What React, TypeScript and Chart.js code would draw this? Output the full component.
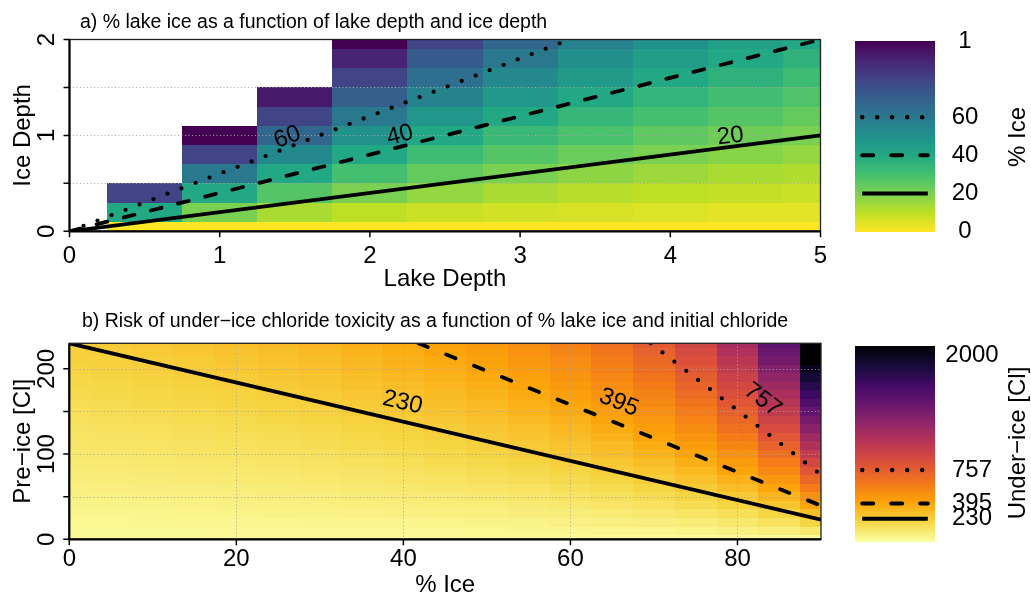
import React, { useEffect, useRef } from "react";
import { Chart, registerables } from "chart.js";

Chart.register(...registerables);

const W = 1031;
const H = 601;
const FONT = '"Liberation Sans", Arial, Helvetica, sans-serif';

// ---------------- Panel a data ----------------
const lakeDepths = [0.5, 1, 1.5, 2, 2.5, 3, 3.5, 4, 4.5, 5];
const iceDepths = [0, 0.2, 0.4, 0.6, 0.8, 1, 1.2, 1.4, 1.6, 1.8, 2];
// % lake ice: one row per lake depth, one value per ice depth (null = no cell)
const pctIce: (number | null)[][] = [
  [0, 40, 80, null, null, null, null, null, null, null, null],
  [0, 20, 40, 60, 80, 100, null, null, null, null, null],
  [0, 13, 27, 40, 53, 67, 80, 93, null, null, null],
  [0, 10, 20, 30, 40, 50, 60, 70, 80, 90, 100],
  [0, 8, 16, 24, 32, 40, 48, 56, 64, 72, 80],
  [0, 7, 13, 20, 27, 33, 40, 47, 53, 60, 67],
  [0, 6, 11, 17, 23, 29, 34, 40, 46, 51, 57],
  [0, 5, 10, 15, 20, 25, 30, 35, 40, 45, 50],
  [0, 4, 9, 13, 18, 22, 27, 31, 36, 40, 44],
  [0, 4, 8, 12, 16, 20, 24, 28, 32, 36, 40],
];
const lakeXTicks = [0, 1, 2, 3, 4, 5];
const lakeXLabels = ["0", "1", "2", "3", "4", "5"];
const iceYTicks = [0, 0.5, 1, 1.5, 2];
const iceYLabels = ["0", "", "1", "", "2"];
const iceYGrid = [0.5, 1, 1.5];
const iceCbTicks = [0, 20, 40, 60, 100];
const iceCbLabels = ["0", "20", "40", "60", "1"];
const iceContour20 = [{ x: 0, y: 0 }, { x: 5, y: 1 }];
const iceContour40 = [{ x: 0, y: 0 }, { x: 5, y: 2 }];
const iceContour60 = [{ x: 0, y: 0 }, { x: 3.33, y: 2 }];
const iceContourLabels = ["20", "40", "60"];
const iceContourLabelX = [4.4, 2.2, 1.45];
const iceContourLabelY = [0.99, 1.0, 0.98];

// ---------------- Panel b data ----------------
const pctIceCats = [0, 5, 10, 15, 20, 25, 30, 35, 40, 45, 50, 55, 60, 65, 70, 75, 80, 85, 90];
const preIceCats = [0, 10, 20, 30, 40, 50, 60, 70, 80, 90, 100, 110, 120, 130, 140, 150, 160, 170, 180, 190, 200, 210, 220, 230];
// under-ice chloride: one row per pre-ice value, one value per % ice
const underIce: number[][] = [
  [0, 0, 0, 0, 0, 0, 0, 0, 0, 0, 0, 0, 0, 0, 0, 0, 0, 0, 0],
  [10, 11, 11, 12, 13, 13, 14, 15, 17, 18, 20, 22, 25, 29, 33, 40, 50, 67, 100],
  [20, 21, 22, 24, 25, 27, 29, 31, 33, 36, 40, 44, 50, 57, 67, 80, 100, 133, 200],
  [30, 32, 33, 35, 38, 40, 43, 46, 50, 55, 60, 67, 75, 86, 100, 120, 150, 200, 300],
  [40, 42, 44, 47, 50, 53, 57, 62, 67, 73, 80, 89, 100, 114, 133, 160, 200, 267, 400],
  [50, 53, 56, 59, 63, 67, 71, 77, 83, 91, 100, 111, 125, 143, 167, 200, 250, 333, 500],
  [60, 63, 67, 71, 75, 80, 86, 92, 100, 109, 120, 133, 150, 171, 200, 240, 300, 400, 600],
  [70, 74, 78, 82, 88, 93, 100, 108, 117, 127, 140, 156, 175, 200, 233, 280, 350, 467, 700],
  [80, 84, 89, 94, 100, 107, 114, 123, 133, 145, 160, 178, 200, 229, 267, 320, 400, 533, 800],
  [90, 95, 100, 106, 113, 120, 129, 138, 150, 164, 180, 200, 225, 257, 300, 360, 450, 600, 900],
  [100, 105, 111, 118, 125, 133, 143, 154, 167, 182, 200, 222, 250, 286, 333, 400, 500, 667, 1000],
  [110, 116, 122, 129, 138, 147, 157, 169, 183, 200, 220, 244, 275, 314, 367, 440, 550, 733, 1100],
  [120, 126, 133, 141, 150, 160, 171, 185, 200, 218, 240, 267, 300, 343, 400, 480, 600, 800, 1200],
  [130, 137, 144, 153, 163, 173, 186, 200, 217, 236, 260, 289, 325, 371, 433, 520, 650, 867, 1300],
  [140, 147, 156, 165, 175, 187, 200, 215, 233, 255, 280, 311, 350, 400, 467, 560, 700, 933, 1400],
  [150, 158, 167, 176, 188, 200, 214, 231, 250, 273, 300, 333, 375, 429, 500, 600, 750, 1000, 1500],
  [160, 168, 178, 188, 200, 213, 229, 246, 267, 291, 320, 356, 400, 457, 533, 640, 800, 1067, 1600],
  [170, 179, 189, 200, 213, 227, 243, 262, 283, 309, 340, 378, 425, 486, 567, 680, 850, 1133, 1700],
  [180, 189, 200, 212, 225, 240, 257, 277, 300, 327, 360, 400, 450, 514, 600, 720, 900, 1200, 1800],
  [190, 200, 211, 224, 238, 253, 271, 292, 317, 345, 380, 422, 475, 543, 633, 760, 950, 1267, 1900],
  [200, 211, 222, 235, 250, 267, 286, 308, 333, 364, 400, 444, 500, 571, 667, 800, 1000, 1333, 2000],
  [210, 221, 233, 247, 263, 280, 300, 323, 350, 382, 420, 467, 525, 600, 700, 840, 1050, 1400, 2100],
  [220, 232, 244, 259, 275, 293, 314, 338, 367, 400, 440, 489, 550, 629, 733, 880, 1100, 1467, 2200],
  [230, 242, 256, 271, 288, 307, 329, 354, 383, 418, 460, 511, 575, 657, 767, 920, 1150, 1533, 2300],
];
const clXTicks = [0, 20, 40, 60, 80];
const clXLabels = ["0", "20", "40", "60", "80"];
const clYTicks = [0, 50, 100, 150, 200];
const clYLabels = ["0", "", "100", "", "200"];
const clXGrid = [20, 40, 60, 80];
const clYGrid = [50, 100, 150, 200];
const clCbRange = [-22, 2097];
const clCbTicks = [230, 395, 757, 2000];
const clCbLabels = ["230", "395", "757", "2000"];
const clContour230 = [{ x: 0, y: 230 }, { x: 90, y: 23 }];
const clContour395 = [{ x: 41.8, y: 230 }, { x: 90, y: 39.5 }];
const clContour757 = [{ x: 69.6, y: 230 }, { x: 90, y: 75.7 }];
const clContourLabels = ["230", "395", "757"];
const clContourLabelX = [39.9, 65.8, 83.0];
const clContourLabelY = [160.5, 160.5, 163.5];

// ---------------- colour maps ----------------
const VIRIDIS = ["#440154", "#482475", "#414487", "#355f8d", "#2a788e", "#21918c", "#22a884", "#44bf70", "#7ad151", "#bddf26", "#fde725"];
const INFERNO = ["#000004", "#160b39", "#420a68", "#6a176e", "#932667", "#bc3754", "#dd513a", "#f37819", "#fca50a", "#f6d746", "#fcffa4"];

function hex(h: string) {
  return [parseInt(h.slice(1, 3), 16), parseInt(h.slice(3, 5), 16), parseInt(h.slice(5, 7), 16)];
}
function ramp(stops: string[], t: number) {
  const tt = Math.max(0, Math.min(1, t));
  const pos = tt * (stops.length - 1);
  const i = Math.min(stops.length - 2, Math.floor(pos));
  const f = pos - i;
  const a = hex(stops[i]);
  const b = hex(stops[i + 1]);
  const c = a.map((v, k) => Math.round(v + (b[k] - v) * f));
  return `rgb(${c[0]},${c[1]},${c[2]})`;
}
const iceColor = (v: number) => ramp(VIRIDIS, 1 - v / 100);
const clColor = (v: number) => ramp(INFERNO, 1 - (v - clCbRange[0]) / (clCbRange[1] - clCbRange[0]));

// ---------------- helpers ----------------
function edges(vals: number[]) {
  const n = vals.length;
  const e = [vals[0] - (vals[1] - vals[0]) / 2];
  for (let i = 1; i < n; i++) e.push((vals[i - 1] + vals[i]) / 2);
  e.push(vals[n - 1] + (vals[n - 1] - vals[n - 2]) / 2);
  return e;
}

function txt(ctx: any, s: string, x: number, y: number, size: number, align = "center", baseline = "middle", rot = 0) {
  ctx.save();
  ctx.translate(x, y);
  if (rot) ctx.rotate(rot);
  ctx.font = `${size}px ${FONT}`;
  ctx.fillStyle = "#000";
  ctx.textAlign = align;
  ctx.textBaseline = baseline;
  ctx.fillText(s, 0, 0);
  ctx.restore();
}

function drawCells(chart: any, xs: number[], ys: number[], get: (i: number, j: number) => number | null, color: (v: number) => string) {
  const { ctx, chartArea: a, scales } = chart;
  const sx = scales.x;
  const sy = scales.y;
  const xe = edges(xs);
  const ye = edges(ys);
  ctx.save();
  ctx.beginPath();
  ctx.rect(a.left, a.top, a.right - a.left, a.bottom - a.top);
  ctx.clip();
  for (let i = 0; i < xs.length; i++) {
    for (let j = 0; j < ys.length; j++) {
      const v = get(i, j);
      if (v === null || v === undefined) continue;
      const x0 = Math.round(sx.getPixelForValue(xe[i]));
      const x1 = Math.round(sx.getPixelForValue(xe[i + 1]));
      const y0 = Math.round(sy.getPixelForValue(ye[j + 1]));
      const y1 = Math.round(sy.getPixelForValue(ye[j]));
      ctx.fillStyle = color(v);
      ctx.fillRect(x0, y0, x1 - x0, y1 - y0);
    }
  }
  ctx.restore();
}

function drawGrid(chart: any, xg: number[], yg: number[]) {
  const { ctx, chartArea: a, scales } = chart;
  ctx.save();
  ctx.strokeStyle = "rgba(165,165,170,0.95)";
  ctx.lineWidth = 1;
  ctx.setLineDash([1, 2.5]);
  ctx.beginPath();
  for (const v of xg) {
    const px = Math.round(scales.x.getPixelForValue(v)) + 0.5;
    ctx.moveTo(px, a.top);
    ctx.lineTo(px, a.bottom);
  }
  for (const v of yg) {
    const py = Math.round(scales.y.getPixelForValue(v)) + 0.5;
    ctx.moveTo(a.left, py);
    ctx.lineTo(a.right, py);
  }
  ctx.stroke();
  ctx.restore();
}

interface FrameSpec {
  xTicks: number[];
  xLabels: string[];
  yTicks: number[];
  yLabels: string[];
  xLabelY: number;
  yLabelX: number;
  xTitle: string;
  xTitleY: number;
  yTitle: string;
  yTitleX: number;
  title: string;
  titleX: number;
  titleY: number;
}

function drawFrame(chart: any, f: FrameSpec) {
  const { ctx, chartArea: a, scales } = chart;
  ctx.save();
  ctx.setLineDash([]);
  ctx.strokeStyle = "#222";
  ctx.lineWidth = 1.3;
  ctx.strokeRect(a.left, a.top, a.right - a.left, a.bottom - a.top);
  ctx.strokeStyle = "#000";
  ctx.lineWidth = 2.2;
  ctx.beginPath();
  ctx.moveTo(a.left, a.top);
  ctx.lineTo(a.left, a.bottom);
  ctx.lineTo(a.right, a.bottom);
  ctx.stroke();
  ctx.lineWidth = 1.5;
  ctx.beginPath();
  f.xTicks.forEach((v) => {
    const px = scales.x.getPixelForValue(v);
    ctx.moveTo(px, a.bottom);
    ctx.lineTo(px, a.bottom + 6);
  });
  f.yTicks.forEach((v) => {
    const py = scales.y.getPixelForValue(v);
    ctx.moveTo(a.left, py);
    ctx.lineTo(a.left - 6, py);
  });
  ctx.stroke();
  ctx.restore();
  f.xTicks.forEach((v, i) => txt(ctx, f.xLabels[i], scales.x.getPixelForValue(v), f.xLabelY, 24));
  f.yTicks.forEach((v, i) => {
    if (f.yLabels[i]) txt(ctx, f.yLabels[i], f.yLabelX, scales.y.getPixelForValue(v), 24, "center", "middle", -Math.PI / 2);
  });
  txt(ctx, f.xTitle, (a.left + a.right) / 2, f.xTitleY, 24);
  txt(ctx, f.yTitle, f.yTitleX, (a.top + a.bottom) / 2, 24, "center", "middle", -Math.PI / 2);
  txt(ctx, f.title, f.titleX, f.titleY, 19.5, "left", "alphabetic");
}

function drawContourLabels(chart: any, labels: string[], lx: number[], ly: number[], paths: { x: number; y: number }[][], size: number) {
  const { ctx, scales } = chart;
  labels.forEach((s, i) => {
    const p = paths[i];
    const dx = scales.x.getPixelForValue(p[1].x) - scales.x.getPixelForValue(p[0].x);
    const dy = scales.y.getPixelForValue(p[1].y) - scales.y.getPixelForValue(p[0].y);
    const ang = Math.atan2(dy, dx);
    txt(ctx, s, scales.x.getPixelForValue(lx[i]), scales.y.getPixelForValue(ly[i]), size, "center", "middle", ang);
  });
}

const LINE_STYLE: Record<string, any> = {
  solid: { borderDash: [], borderCapStyle: "butt", borderWidth: 3.8 },
  dashed: { borderDash: [11, 17], borderCapStyle: "round", borderWidth: 3.8 },
  dotted: { borderDash: [0, 15], borderCapStyle: "round", borderWidth: 4.3 },
};

function lineDataset(data: { x: number; y: number }[], kind: string, width?: number, dash?: number[]) {
  const st = LINE_STYLE[kind];
  return {
    data,
    borderColor: "#000",
    backgroundColor: "#000",
    borderWidth: width ?? st.borderWidth,
    borderDash: dash ?? st.borderDash,
    borderCapStyle: st.borderCapStyle,
    pointRadius: 0,
    fill: false,
    tension: 0,
  };
}

function baseOptions(area: { left: number; right: number; top: number; bottom: number }, xr: number[], yr: number[]) {
  return {
    responsive: false,
    animation: false,
    events: [],
    layout: { padding: { left: area.left, top: area.top, right: W - area.right, bottom: H - area.bottom } },
    scales: {
      x: { type: "linear", min: xr[0], max: xr[1], display: false },
      y: { type: "linear", min: yr[0], max: yr[1], display: false },
    },
    plugins: { legend: { display: false }, tooltip: { enabled: false }, title: { display: false } },
  };
}

// ---------------- chart configs ----------------
function panelAConfig(): any {
  return {
    type: "line",
    data: {
      datasets: [
        lineDataset(iceContour20, "solid"),
        lineDataset(iceContour40, "dashed"),
        lineDataset(iceContour60, "dotted"),
      ],
    },
    options: baseOptions({ left: 69.5, right: 820.5, top: 39.5, bottom: 231.3 }, [0, 5], [0, 2]),
    plugins: [
      {
        id: "heatA",
        beforeDatasetsDraw(chart: any) {
          drawCells(chart, lakeDepths, iceDepths, (i, j) => pctIce[i][j], iceColor);
          drawGrid(chart, [], iceYGrid);
        },
        afterDatasetsDraw(chart: any) {
          drawContourLabels(chart, iceContourLabels, iceContourLabelX, iceContourLabelY, [iceContour20, iceContour40, iceContour60], 24);
          drawFrame(chart, {
            xTicks: lakeXTicks,
            xLabels: lakeXLabels,
            yTicks: iceYTicks,
            yLabels: iceYLabels,
            xLabelY: 256,
            yLabelX: 47.5,
            xTitle: "Lake Depth",
            xTitleY: 279,
            yTitle: "Ice Depth",
            yTitleX: 23,
            title: "a) % lake ice as a function of lake depth and ice depth",
            titleX: 80,
            titleY: 28,
          });
        },
      },
    ],
  };
}

function panelBConfig(): any {
  return {
    type: "line",
    data: {
      datasets: [
        lineDataset(clContour230, "solid"),
        lineDataset(clContour395, "dashed", 3.8, [10, 20]),
        lineDataset(clContour757, "dotted"),
      ],
    },
    options: baseOptions({ left: 69.3, right: 821, top: 343.3, bottom: 539.3 }, [0, 90], [0, 230]),
    plugins: [
      {
        id: "heatB",
        beforeDatasetsDraw(chart: any) {
          drawCells(chart, pctIceCats, preIceCats, (i, j) => underIce[j][i], clColor);
          drawGrid(chart, clXGrid, clYGrid);
        },
        afterDatasetsDraw(chart: any) {
          drawContourLabels(chart, clContourLabels, clContourLabelX, clContourLabelY, [clContour230, clContour395, clContour757], 24);
          drawFrame(chart, {
            xTicks: clXTicks,
            xLabels: clXLabels,
            yTicks: clYTicks,
            yLabels: clYLabels,
            xLabelY: 559,
            yLabelX: 47.5,
            xTitle: "% Ice",
            xTitleY: 585,
            yTitle: "Pre\u2212ice [Cl]",
            yTitleX: 23,
            title: "b) Risk of under\u2212ice chloride toxicity as a function of % lake ice and initial chloride",
            titleX: 82,
            titleY: 327,
          });
        },
      },
    ],
  };
}

function colorbarConfig(
  area: { left: number; right: number; top: number; bottom: number },
  range: number[],
  color: (v: number) => string,
  ticks: number[],
  labels: string[],
  lines: { y: number; kind: string; dash?: number[] }[],
  labelX: number,
  title: string,
  titleX: number,
  titleY: number
): any {
  return {
    type: "line",
    data: {
      datasets: lines.map((l) =>
        lineDataset([{ x: 0.09, y: l.y }, { x: 0.91, y: l.y }], l.kind, l.kind === "dotted" ? 4.5 : 4, l.dash)
      ),
    },
    options: baseOptions(area, [0, 1], range),
    plugins: [
      {
        id: "cbar",
        beforeDatasetsDraw(chart: any) {
          const { ctx, chartArea: a, scales } = chart;
          const top = Math.round(a.top);
          const bottom = Math.round(a.bottom);
          for (let py = top; py < bottom; py++) {
            const v = scales.y.getValueForPixel(py + 0.5);
            ctx.fillStyle = color(v);
            ctx.fillRect(a.left, py, a.right - a.left, 1);
          }
        },
        afterDatasetsDraw(chart: any) {
          const { ctx, scales } = chart;
          ticks.forEach((v, i) => txt(ctx, labels[i], labelX, scales.y.getPixelForValue(v), 24));
          txt(ctx, title, titleX, titleY, 24, "center", "middle", -Math.PI / 2);
        },
      },
    ],
  };
}

export default function App() {
  const r1 = useRef<HTMLCanvasElement>(null);
  const r2 = useRef<HTMLCanvasElement>(null);
  const r3 = useRef<HTMLCanvasElement>(null);
  const r4 = useRef<HTMLCanvasElement>(null);

  useEffect(() => {
    const charts: Chart[] = [];
    charts.push(new Chart(r1.current as HTMLCanvasElement, panelAConfig()));
    charts.push(new Chart(r2.current as HTMLCanvasElement, panelBConfig()));
    charts.push(
      new Chart(
        r3.current as HTMLCanvasElement,
        colorbarConfig(
          { left: 855, right: 935, top: 41, bottom: 231.5 },
          [0, 100],
          iceColor,
          iceCbTicks,
          iceCbLabels,
          [
            { y: 60, kind: "dotted" },
            { y: 40, kind: "dashed", dash: [11, 18] },
            { y: 20, kind: "solid" },
          ],
          965,
          "% Ice",
          1018.5,
          137
        )
      )
    );
    charts.push(
      new Chart(
        r4.current as HTMLCanvasElement,
        colorbarConfig(
          { left: 855, right: 935, top: 346, bottom: 542 },
          clCbRange,
          clColor,
          clCbTicks,
          clCbLabels,
          [
            { y: 757, kind: "dotted" },
            { y: 395, kind: "dashed", dash: [11, 18] },
            { y: 230, kind: "solid" },
          ],
          972,
          "Under\u2212ice [Cl]",
          1018.5,
          443
        )
      )
    );
    return () => charts.forEach((c) => c.destroy());
  }, []);

  const cs: React.CSSProperties = { position: "absolute", left: 0, top: 0, width: W, height: H };
  return (
    <div style={{ position: "absolute", left: 0, top: 0, width: W, height: H, background: "#fff", overflow: "hidden" }}>
      <canvas ref={r1} width={W} height={H} style={cs} />
      <canvas ref={r2} width={W} height={H} style={cs} />
      <canvas ref={r3} width={W} height={H} style={cs} />
      <canvas ref={r4} width={W} height={H} style={cs} />
    </div>
  );
}
